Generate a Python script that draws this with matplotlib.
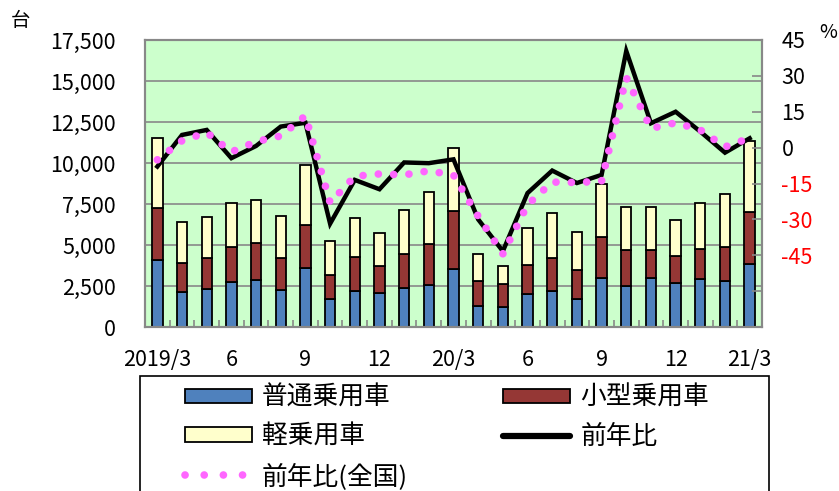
import matplotlib
matplotlib.use('Agg')
import matplotlib.pyplot as plt
from matplotlib.patches import Rectangle
from matplotlib.lines import Line2D
import numpy as np

plt.rcParams['font.family'] = ['Noto Sans CJK JP', 'DejaVu Sans']

# 2019/3 - 2021/3 monthly
tick_labels = ['2019/3', '', '', '6', '', '', '9', '', '', '12', '', '',
               '20/3', '', '', '6', '', '', '9', '', '', '12', '', '', '21/3']
futsu = [4085, 2134, 2337, 2723, 2845, 2276, 3597, 1728, 2215, 2093, 2358, 2581, 3557,
         1260, 1199, 1992, 2175, 1687, 3009, 2480, 2967, 2703, 2947, 2805, 3821]
kogata = [3190, 1789, 1850, 2175, 2297, 1952, 2643, 1463, 2033, 1627, 2114, 2480, 3516,
          1524, 1423, 1788, 2032, 1809, 2459, 2215, 1728, 1647, 1830, 2053, 3171]
kei = [4231, 2479, 2540, 2642, 2581, 2560, 3658, 2033, 2398, 1991, 2682, 3190, 3862,
       1647, 1118, 2277, 2764, 2297, 3252, 2643, 2602, 2195, 2805, 3252, 4349]
yoy = [-7.9, 5.3, 7.4, -4.4, 0.7, 8.8, 10.4, -31.8, -13.5, -17.4, -6.2, -6.5, -4.9,
       -30.0, -43.3, -19.0, -9.6, -14.8, -11.4, 40.4, 10.2, 15.0, 6.7, -2.1, 3.9]
yoy_zenkoku = [-5.1, 2.9, 6.3, -1.8, 2.5, 4.9, 13.3, -23.0, -12.0, -11.0, -11.4, -9.7, -11.5,
               -28.7, -44.4, -23.9, -14.4, -14.6, -14.0, 29.3, 8.0, 10.4, 7.4, 0.3, 4.0]

x = np.arange(len(futsu))
b1 = np.array(futsu)
b2 = b1 + np.array(kogata)

fig = plt.figure(figsize=(8.39, 4.91), dpi=100)
fig.subplots_adjust(left=145/839, right=762/839, top=1-40/491, bottom=1-327/491)
ax = fig.add_subplot(111)
ax.set_facecolor('#CCFFCC')
ax.set_axisbelow(True)

w = 0.42
ax.bar(x, futsu, w, color='#4F81BD', edgecolor='black', lw=1.3)
ax.bar(x, kogata, w, bottom=b1, color='#953735', edgecolor='black', lw=1.3)
ax.bar(x, kei, w, bottom=b2, color='#FFFFCC', edgecolor='black', lw=1.3)

ax.set_xlim(-0.5, len(x) - 0.5)
ax.set_ylim(0, 17500)
ax.set_yticks(np.arange(0, 17501, 2500))
ax.set_yticklabels([f'{v:,}' for v in range(0, 17501, 2500)])
ax.yaxis.grid(True, color='#888888', lw=1.2)
ax.tick_params(axis='y', length=0, pad=21, labelsize=15.5)
ax.set_xticks(x)
ax.set_xticklabels(tick_labels)
ax.tick_params(axis='x', which='major', length=0, pad=16, labelsize=15.5)
ax.set_xticks(np.arange(0.5, len(x) - 1, 1), minor=True)
ax.tick_params(axis='x', which='minor', direction='in', length=5, color='#888888', width=1.2)
for s in ax.spines.values():
    s.set_color('#888888')
    s.set_linewidth(1.5)

ax2 = ax.twinx()
ax2.plot(x, yoy, color='black', lw=3.2, solid_joinstyle='miter')
ax2.plot(x, yoy_zenkoku, color='#FF66FF', lw=5.5, linestyle=(0, (0.01, 2.0)),
         dash_capstyle='round')
ax2.set_ylim(-75, 45)
ax2.set_yticks(np.arange(-60, 46, 15))
ax2.set_yticklabels(['' if v == -60 else str(v) for v in range(-60, 46, 15)])
ax2.tick_params(axis='y', direction='in', length=7, color='#888888', width=1.2,
                pad=14, labelsize=15.5)
for lab, v in zip(ax2.get_yticklabels(), range(-60, 46, 15)):
    lab.set_color('red' if v < 0 else 'black')
for s in ax2.spines.values():
    s.set_color('#888888')
    s.set_linewidth(1.5)

fig.text(21/839, 1-20/491, '台', ha='center', va='center', fontsize=14)
fig.text(828/839, 1-33/491, '%', ha='center', va='center', fontsize=14)

handles = [
    Rectangle((0, 0), 1, 1, facecolor='#4F81BD', edgecolor='black', lw=1.3),
    Rectangle((0, 0), 1, 1, facecolor='#FFFFCC', edgecolor='black', lw=1.3),
    Line2D([], [], color='#FF66FF', lw=5.5, linestyle=(0, (0.01, 2.5)), dash_capstyle='round'),
    Rectangle((0, 0), 1, 1, facecolor='#953735', edgecolor='black', lw=1.3),
    Line2D([], [], color='black', lw=4.5, solid_capstyle='round'),
]
labels = ['普通乗用車', '軽乗用車', '前年比(全国)', '小型乗用車', '前年比']
fig.legend(handles, labels, ncol=2, loc='upper left', bbox_to_anchor=(185/839, 1-385/491),
           frameon=False, fontsize=18.5, handlelength=2.6, handleheight=0.5,
           handletextpad=0.4, columnspacing=3.7, labelspacing=0.5,
           borderaxespad=0, borderpad=0)
fig.patches.append(Rectangle((140/839, -0.1), (769-140)/839, 0.1 + 1-376/491,
                             transform=fig.transFigure, fill=False,
                             edgecolor='black', lw=1.2))

fig.savefig('out.png', dpi=100)
